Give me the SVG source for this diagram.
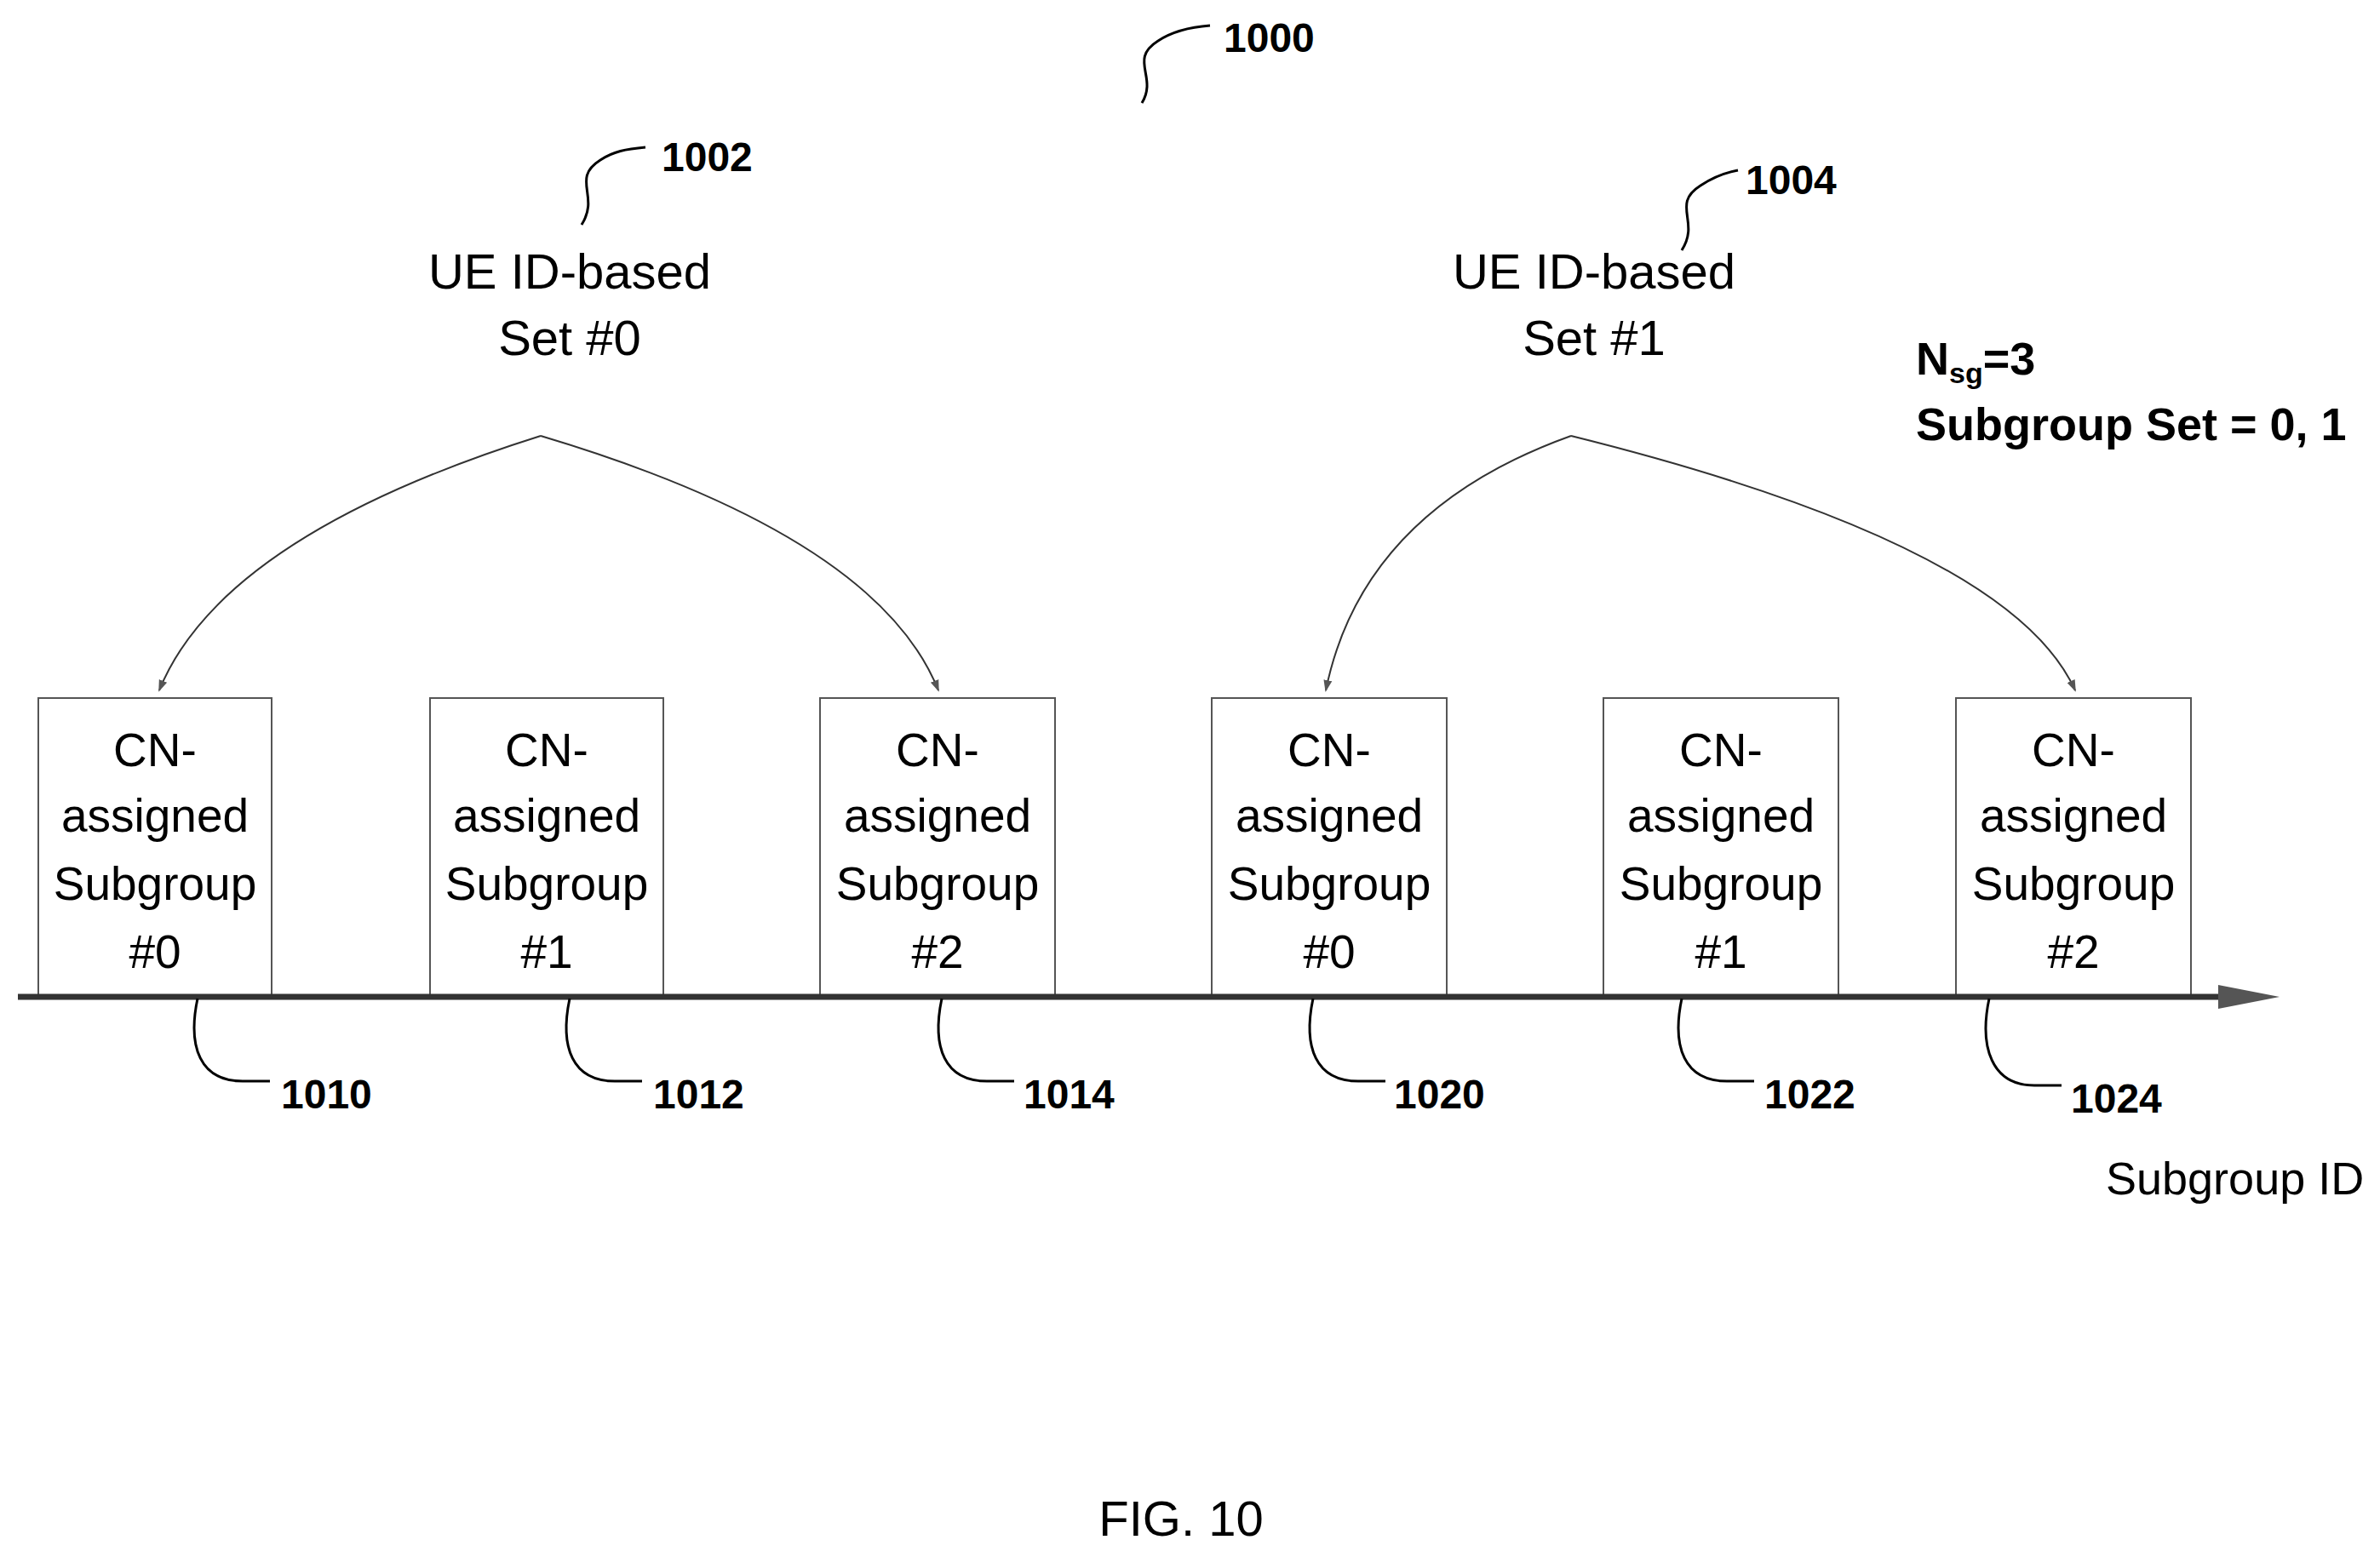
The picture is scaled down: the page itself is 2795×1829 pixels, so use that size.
<svg xmlns="http://www.w3.org/2000/svg" width="2795" height="1829" viewBox="0 0 2795 1829">
<style>
.t{font-family:"Liberation Sans",Arial,sans-serif;fill:#000}
.bx{fill:#fff;stroke:#555;stroke-width:2}
.bt{font-size:55px;text-anchor:middle}
.rn{font-size:48px;font-weight:bold}
.ln{fill:none;stroke:#000;stroke-width:3}
.arc{fill:none;stroke:#333;stroke-width:2;marker-end:url(#ah)}
</style>
<defs>
<marker id="ah" markerWidth="14" markerHeight="14" refX="12" refY="5" orient="auto" markerUnits="userSpaceOnUse" viewBox="0 0 14 10"><path d="M0,0 L14,5 L0,10 Z" fill="#555"/></marker>
</defs>
<rect width="2795" height="1829" fill="#fff"/>
<g id="labels">
<text class="t" x="1437" y="61" font-size="48" font-weight="bold">1000</text>
<text class="t" x="777" y="201" font-size="48" font-weight="bold">1002</text>
<text class="t" x="2050" y="228" font-size="48" font-weight="bold">1004</text>
<text class="t" x="669" y="339" font-size="58" text-anchor="middle">UE ID-based</text>
<text class="t" x="669" y="417" font-size="58" text-anchor="middle">Set #0</text>
<text class="t" x="1872" y="339" font-size="58" text-anchor="middle">UE ID-based</text>
<text class="t" x="1872" y="417" font-size="58" text-anchor="middle">Set #1</text>
<text class="t" x="2250" y="440" font-size="54" font-weight="bold">N<tspan font-size="34" dy="10">sg</tspan><tspan dy="-10">=3</tspan></text>
<text class="t" x="2250" y="517" font-size="54" font-weight="bold">Subgroup Set = 0, 1</text>
<text class="t" x="2473" y="1403" font-size="54">Subgroup ID</text>
<text class="t" x="1387" y="1804" font-size="58" text-anchor="middle">FIG. 10</text>
</g>
<g id="n1010"><rect class="bx" x="45" y="820" width="274" height="351"/><text class="t bt" x="182"><tspan x="182" y="900">CN-</tspan><tspan x="182" y="977">assigned</tspan><tspan x="182" y="1057">Subgroup</tspan><tspan x="182" y="1137">#0</tspan></text></g>
<g id="n1012"><rect class="bx" x="505" y="820" width="274" height="351"/><text class="t bt" x="642"><tspan x="642" y="900">CN-</tspan><tspan x="642" y="977">assigned</tspan><tspan x="642" y="1057">Subgroup</tspan><tspan x="642" y="1137">#1</tspan></text></g>
<g id="n1014"><rect class="bx" x="963" y="820" width="276" height="351"/><text class="t bt" x="1101"><tspan x="1101" y="900">CN-</tspan><tspan x="1101" y="977">assigned</tspan><tspan x="1101" y="1057">Subgroup</tspan><tspan x="1101" y="1137">#2</tspan></text></g>
<g id="n1020"><rect class="bx" x="1423" y="820" width="276" height="351"/><text class="t bt" x="1561"><tspan x="1561" y="900">CN-</tspan><tspan x="1561" y="977">assigned</tspan><tspan x="1561" y="1057">Subgroup</tspan><tspan x="1561" y="1137">#0</tspan></text></g>
<g id="n1022"><rect class="bx" x="1883" y="820" width="276" height="351"/><text class="t bt" x="2021"><tspan x="2021" y="900">CN-</tspan><tspan x="2021" y="977">assigned</tspan><tspan x="2021" y="1057">Subgroup</tspan><tspan x="2021" y="1137">#1</tspan></text></g>
<g id="n1024"><rect class="bx" x="2297" y="820" width="276" height="351"/><text class="t bt" x="2435"><tspan x="2435" y="900">CN-</tspan><tspan x="2435" y="977">assigned</tspan><tspan x="2435" y="1057">Subgroup</tspan><tspan x="2435" y="1137">#2</tspan></text></g>
<g id="refs">
<text class="t rn" x="330" y="1302">1010</text>
<text class="t rn" x="767" y="1302">1012</text>
<text class="t rn" x="1202" y="1302">1014</text>
<text class="t rn" x="1637" y="1302">1020</text>
<text class="t rn" x="2072" y="1302">1022</text>
<text class="t rn" x="2432" y="1307">1024</text>
</g>
<g id="connectors">
<path class="ln" d="M1341,121 C1360,90 1325,70 1360,48 C1375,38 1395,32 1421,30"/>
<path class="ln" d="M683,264 C705,230 670,210 705,188 C720,178 735,175 758,173"/>
<path class="ln" d="M1975,294 C1997,260 1962,240 1997,218 C2012,208 2025,203 2041,200"/>
<line x1="21" y1="1171" x2="2610" y2="1171" stroke="#333" stroke-width="7"/>
<path d="M2605,1157 L2677,1171 L2605,1185 Z" fill="#555"/>
<path class="ln" d="M232,1173 C220,1230 235,1270 285,1270 L317,1270"/>
<path class="ln" d="M669,1173 C657,1230 672,1270 722,1270 L754,1270"/>
<path class="ln" d="M1106,1173 C1094,1230 1109,1270 1159,1270 L1191,1270"/>
<path class="ln" d="M1542,1173 C1530,1230 1545,1270 1595,1270 L1627,1270"/>
<path class="ln" d="M1975,1173 C1963,1230 1978,1270 2028,1270 L2060,1270"/>
<path class="ln" d="M2336,1173 C2324,1230 2339,1275 2389,1275 L2421,1275"/>
<path class="arc" d="M635,512 Q260,630 187,811"/>
<path class="arc" d="M635,512 Q1030,630 1102,811"/>
<path class="arc" d="M1845,512 Q1600,600 1557,811"/>
<path class="arc" d="M1845,512 Q2360,640 2437,811"/>
</g>
</svg>
